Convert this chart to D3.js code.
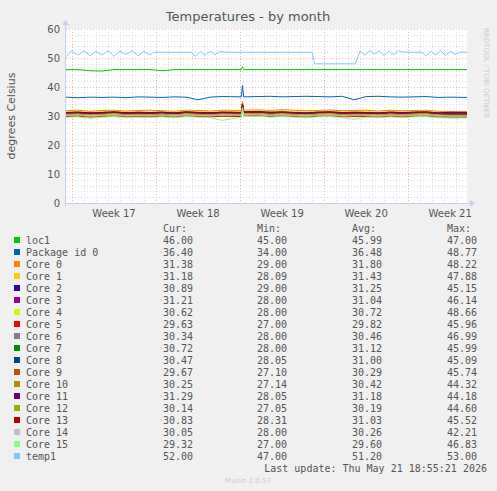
<!DOCTYPE html>
<html><head><meta charset="utf-8">
<script src="https://cdn.jsdelivr.net/npm/d3@7"></script>
<style>body{margin:0;background:#f0f0f0}svg{display:block}</style>
</head><body><svg></svg>
<script>
// chart values
const days = [0,1,2,3,4,5,6,7,8,9,10,11,12,13,14.6,14.7,14.8,16,17,18,19,20,21,22,23,24,25,26,27,28,29,30,31,32,33.4];
const names = ['loc1','Package id 0','Core 0','Core 1','Core 2','Core 3','Core 4','Core 5','Core 6','Core 7','Core 8','Core 9','Core 10','Core 11','Core 12','Core 13','Core 14','Core 15','temp1'];
const colors = ['#00cc00','#0066b3','#ff8000','#ffcc00','#330099','#990099','#ccff00','#ff0000','#808080','#008f00','#00487d','#b35a00','#b38f00','#6b006b','#8fb300','#b30000','#bebebe','#80ff80','#80c9ff'];
const cur = ['46.00','36.40','31.38','31.18','30.89','31.21','30.62','29.63','30.34','30.72','30.47','29.67','30.25','31.29','30.14','30.83','30.05','29.32','52.00'];
const mins = ['45.00','34.00','29.00','28.09','29.00','28.00','28.00','27.00','28.00','28.00','28.05','27.10','27.14','28.05','27.05','28.31','28.00','27.00','47.00'];
const avgs = ['45.99','36.48','31.80','31.43','31.25','31.04','30.72','29.82','30.46','31.12','31.00','30.29','30.42','31.18','30.19','31.03','30.26','29.60','51.20'];
const maxs = ['47.00','48.77','48.22','47.88','45.15','46.14','48.66','45.96','46.99','45.99','45.09','45.74','44.32','44.18','44.60','45.52','42.21','46.83','53.00'];
const loc1 = [46,46,45.6,45.5,46,46,46,46,45.6,46,46,46,46,46,46,47,46,46,46,46,46,46,46,46,46,46,46,46,46,46,46,46,46,46,46];
const pkg = [36.5,36.3,36.5,36.4,36.5,36.3,36.6,36.5,36.4,36.6,36.5,35.6,36.5,36.7,36.6,40.5,36.6,36.7,36.8,36.6,36.7,36.8,36.7,36.6,36.8,35.6,36.7,36.8,36.6,36.5,36.6,36.7,36.4,36.5,36.4];
const cores = [
 [31.8,32,31.6,31.9,32,31.7,31.9,32,31.8,31.6,32,31.9,31.7,32,31.9,35,32,32.1,31.9,32.2,32,31.8,31.9,32.1,31.8,31.9,32,31.7,32,31.8,31.9,32,31.6,31.5,31.4],
 [31.4,31.6,31.3,31.5,31.7,31.4,31.5,31.3,31.6,31.4,31.7,31.5,31.3,31.6,31.5,34.5,31.7,31.8,31.6,31.9,31.5,31.4,31.6,31.7,31.4,31.5,31.6,31.3,31.6,31.4,31.5,31.7,31.3,31.2,31.2],
 [31.2,31.3,31.1,31.2,31.4,31.1,31.3,31.2,31.3,31.1,31.4,31.2,31.1,31.3,31.2,34,31.4,31.5,31.3,31.4,31.2,31.1,31.3,31.4,31.2,31.3,31.2,31.1,31.3,31.2,31.3,31.4,31.1,30.9,30.9],
 [31,31.1,30.9,31,31.2,30.9,31.1,31,31.1,30.9,31.2,31,30.9,31.1,31,34.2,31.2,31.3,31.1,31.2,31,30.9,31.1,31.2,31,31.1,31,30.9,31.1,31,31.1,31.2,30.9,31.2,31.2],
 [30.7,30.8,30.5,30.7,30.9,30.6,30.8,30.7,30.8,30.5,30.9,30.7,30.6,30.8,30.7,33.8,30.9,31,30.7,30.9,30.7,30.5,30.8,30.9,30.6,30.8,30.7,30.5,30.8,30.6,30.8,30.9,30.5,30.6,30.6],
 [29.8,29.9,29.6,29.8,30,29.7,29.8,29.7,29.9,29.6,30,29.8,29.7,29.9,29.8,33,30,30.1,29.8,30,29.8,29.6,29.9,30,29.7,29.8,29.8,29.6,29.9,29.7,29.9,30,29.6,29.6,29.6],
 [30.5,30.6,30.3,30.5,30.7,30.4,30.5,30.4,30.6,30.3,30.7,30.5,30.4,30.6,30.5,33.5,30.7,30.8,30.5,30.7,30.5,30.3,30.6,30.7,30.4,30.5,30.5,30.3,30.6,30.4,30.6,30.7,30.3,30.3,30.3],
 [31.1,31.2,30.9,31.1,31.3,31,31.1,31,31.2,30.9,31.3,31.1,31,31.2,31.1,34,31.3,31.4,31.1,31.3,31.1,30.9,31.2,31.3,31,31.1,31.1,30.9,31.2,31,31.2,31.3,30.9,30.7,30.7],
 [31,31.1,30.8,31,31.2,30.9,31,30.9,31.1,30.8,31.2,31,30.9,31.1,31,33.8,31.2,31.3,31,31.2,31,30.8,31.1,31.2,30.9,31,31,30.8,31.1,30.9,31.1,31.2,30.8,30.5,30.5],
 [30.3,30.4,30.1,30.3,30.5,30.2,30.3,30.2,30.4,30.1,30.5,30.3,30.2,30.4,30.3,33.2,30.5,30.6,30.3,30.5,30.3,30.1,30.4,30.5,30.2,30.3,30.3,30.1,30.4,30.2,30.4,30.5,30.1,29.7,29.7],
 [30.4,30.5,30.2,30.4,30.6,30.3,30.4,30.3,30.5,30.2,30.6,30.4,30.3,30.5,30.4,33.3,30.6,30.7,30.4,30.6,30.4,30.2,30.5,30.6,30.3,30.4,30.4,30.2,30.5,30.3,30.5,30.6,30.2,30.3,30.3],
 [31.2,31.3,31,31.2,31.4,31.1,31.2,31.1,31.3,31,31.4,31.2,31.1,31.3,31.2,34.2,31.4,31.5,31.2,31.4,31.2,31,31.3,31.4,31.1,31.2,31.2,31,31.3,31.1,31.3,31.4,31,31.3,31.3],
 [30.2,30.3,30,30.2,30.4,30.1,30.2,30.1,30.3,30,30.4,30.2,30.1,30.3,30.2,33,30.4,30.5,30.2,30.4,30.2,30,30.3,30.4,30.1,30.2,30.2,30,30.3,30.1,30.3,30.4,30,30.1,30.1],
 [31,31.1,30.8,31,31.2,30.9,31,30.9,31.1,30.8,31.2,31,30.9,31.1,31,34,31.2,31.3,31,31.2,31,30.8,31.1,31.2,30.9,31,31,30.8,31.1,30.9,31.1,31.2,30.8,30.8,30.8],
 [30.3,30.4,30.1,30.3,30.5,30.2,30.3,30.2,30.4,30.1,30.5,30.3,30.2,30.4,30.3,33,30.5,30.6,30.3,30.5,30.3,30.1,30.4,30.5,30.2,30.3,30.3,30.1,30.4,30.2,30.4,30.5,30.1,30,30],
 [29.6,29.7,29.2,29.6,29.8,29.5,29.6,29.5,29.7,29.4,29.8,29.6,29.5,28.5,29.6,32.5,29.8,29.9,29.6,29.8,29.6,29.4,29.7,29.8,29.5,28.8,29.6,29.4,29.7,29.5,29.7,29.8,29.4,29.3,29.3]
];
const tDays = [0,0.5,1,1.5,2,2.5,3,3.5,4,4.5,5,5.5,6,6.5,7,7.3,10.4,10.8,11.2,11.6,12,12.4,12.8,13.2,20.5,20.7,24.1,24.5,24.9,25.3,25.7,26.1,26.5,26.9,27.3,27.7,28.1,29.6,30,30.4,30.8,31.2,31.6,32,32.4,32.8,33.4];
const temp1 = [50.5,52.5,51,52.5,50.8,52.3,51,52.5,50.6,52.4,51.2,52.5,50.8,52.3,51,52,52,50.6,52.3,50.8,52.4,51,52.3,52,52,48,48,52.4,50.9,52.6,51.3,52.5,50.8,52.4,51.1,52.6,52,52,50.8,52.3,51,52.5,50.9,52.3,51.2,52,52];
const yTicks = [0,10,20,30,40,50,60];
const weekLabels = ['Week 17','Week 18','Week 19','Week 20','Week 21'];

const W = 497, H = 491, L = 66, R = 467, T = 29, B = 203;
const svg = d3.select('svg').attr('width', W).attr('height', H).style('font-family', 'DejaVu Sans, sans-serif');
const x = d3.scaleLinear().domain([0, 33.4]).range([L, R]);
const y = d3.scaleLinear().domain([0, 60]).range([B, T]);

svg.append('rect').attr('x', L).attr('y', T).attr('width', R - L).attr('height', B - T).attr('fill', '#fff');

// grid
const g = svg.append('g').attr('shape-rendering', 'crispEdges');
d3.range(0, 61, 2).forEach(v => {
  g.append('line').attr('x1', L).attr('x2', R).attr('y1', Math.round(y(v)) + 0.5).attr('y2', Math.round(y(v)) + 0.5)
    .attr('stroke', v % 10 === 0 ? '#f0b0b0' : '#dcdcdc').attr('stroke-dasharray', '1,2');
});
d3.range(0.5, 33.4, 1).forEach(d => {
  const major = Math.abs((d - 0.5) % 7) < 0.01;
  g.append('line').attr('x1', Math.round(x(d)) + 0.5).attr('x2', Math.round(x(d)) + 0.5).attr('y1', T).attr('y2', B)
    .attr('stroke', major ? '#f0b0b0' : '#dcdcdc').attr('stroke-dasharray', '1,2');
});

// series
const line = d3.line().x(d => x(d[0])).y(d => y(d[1]));
const all = [loc1, pkg, ...cores];
all.forEach((s, i) => {
  svg.append('path').datum(days.map((d, j) => [d, s[j]])).attr('d', line)
    .attr('fill', 'none').attr('stroke', colors[i]).attr('stroke-width', 1);
});
svg.append('path').datum(tDays.map((d, j) => [d, temp1[j]])).attr('d', line)
  .attr('fill', 'none').attr('stroke', colors[18]).attr('stroke-width', 1);

// axes
svg.append('line').attr('x1', L).attr('x2', R + 6).attr('y1', B + 0.5).attr('y2', B + 0.5).attr('stroke', '#c8d0f0');
svg.append('line').attr('x1', L - 0.5).attr('x2', L - 0.5).attr('y1', T - 8).attr('y2', B + 3).attr('stroke', '#c8d0f0');
svg.append('path').attr('d', `M${R + 3},${B - 3}L${R + 8},${B + 0.5}L${R + 3},${B + 4}Z`).attr('fill', '#c8d0f0');
svg.append('path').attr('d', `M${L - 4},${T - 4}L${L - 0.5},${T - 9}L${L + 3},${T - 4}Z`).attr('fill', '#c8d0f0');
yTicks.forEach(v => {
  svg.append('text').attr('x', L - 6).attr('y', y(v) + 4).attr('text-anchor', 'end')
    .attr('font-size', 10).attr('fill', '#555').text(v);
});
weekLabels.forEach((w, i) => {
  svg.append('text').attr('x', x(4 + 7 * i)).attr('y', B + 14).attr('text-anchor', 'middle')
    .attr('font-size', 10).attr('fill', '#555').text(w);
});

svg.append('text').attr('x', 248).attr('y', 21).attr('text-anchor', 'middle').attr('font-size', 13).attr('fill', '#555').text('Temperatures - by month');
svg.append('text').attr('transform', 'rotate(-90)').attr('x', -(T + B) / 2).attr('y', 15).attr('text-anchor', 'middle')
  .attr('font-size', 11).attr('fill', '#555').text('degrees Celsius');
svg.append('text').attr('transform', 'rotate(90)').attr('x', 28).attr('y', -484).attr('font-size', 7).attr('fill', '#ccc')
  .text('RRDTOOL / TOBI OETIKER');

// legend
const lg = svg.append('g').style('font-family', 'DejaVu Sans Mono, monospace').attr('font-size', 10).attr('fill', '#555');
const cols = [163, 257, 352, 447];
['Cur:', 'Min:', 'Avg:', 'Max:'].forEach((h, i) => lg.append('text').attr('x', cols[i]).attr('y', 232).text(h));
names.forEach((n, i) => {
  const yy = 244 + i * 12;
  lg.append('rect').attr('x', 14).attr('y', yy - 7).attr('width', 6).attr('height', 6).attr('fill', colors[i]);
  lg.append('text').attr('x', 26).attr('y', yy).text(n);
  [cur, mins, avgs, maxs].forEach((arr, k) => lg.append('text').attr('x', cols[k]).attr('y', yy).text(arr[i]));
});
lg.append('text').attr('x', 487).attr('y', 472).attr('text-anchor', 'end').text('Last update: Thu May 21 18:55:21 2026');
svg.append('text').attr('x', 248).attr('y', 483).attr('text-anchor', 'middle').attr('font-size', 7).attr('fill', '#ccc').text('Munin 2.0.57');
</script></body></html>
